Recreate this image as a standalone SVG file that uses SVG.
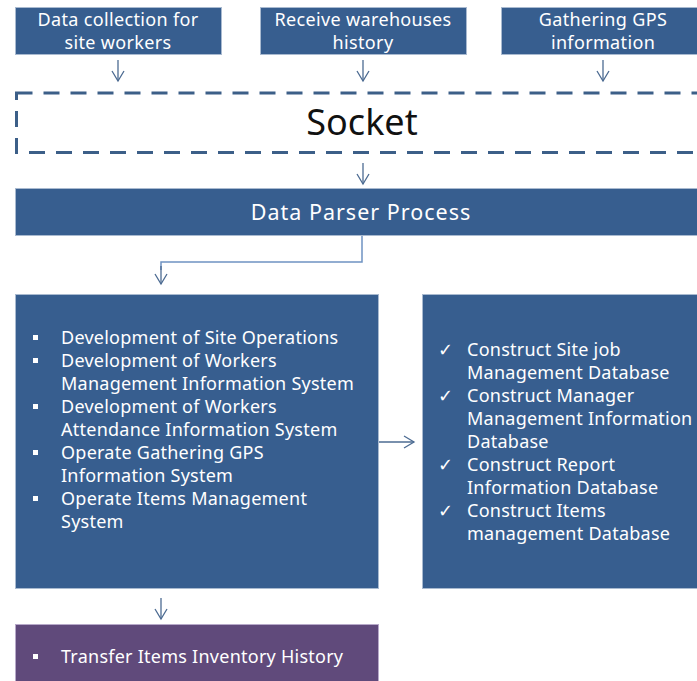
<svg xmlns="http://www.w3.org/2000/svg" width="697" height="681" viewBox="0 0 697 681">
<defs>
<style>
.box{fill:#375E8F;stroke:#A9BAD0;stroke-width:1}
.purple{fill:#604A7B;stroke:#B7A9C9;stroke-width:1}
.t{font-family:"Noto Sans","Open Sans","DejaVu Sans",sans-serif;fill:#FFFFFF}
.top{font-size:18px;letter-spacing:0.35px;text-anchor:middle}
.item{font-size:18px;letter-spacing:0.25px}
.arr{fill:none;stroke:#4C6B92;stroke-width:1.3}
.elbow{fill:none;stroke:#6F93C2;stroke-width:1.5}
</style>
<marker id="ah" markerWidth="14" markerHeight="14" refX="11" refY="7" orient="auto" markerUnits="userSpaceOnUse">
<path d="M1,1 L11,7 L1,13" fill="none" stroke="#4C6B92" stroke-width="1.3"/>
</marker>
</defs>
<rect width="697" height="681" fill="#FFFFFF"/>

<g id="node-data-collection">
<rect class="box" x="15.5" y="7.5" width="206" height="47"/>
<text class="t top" x="118" y="26">Data collection for</text>
<text class="t top" x="118" y="49">site workers</text>
</g>
<g id="node-receive-warehouses">
<rect class="box" x="260.5" y="7.5" width="206" height="47"/>
<text class="t top" x="363" y="26">Receive warehouses</text>
<text class="t top" x="363" y="49">history</text>
</g>
<g id="node-gathering-gps">
<rect class="box" x="501.5" y="7.5" width="200" height="47"/>
<text class="t top" x="603" y="26">Gathering GPS</text>
<text class="t top" x="603" y="49">information</text>
</g>

<g id="node-socket">
<rect x="16.5" y="93" width="700" height="59.5" fill="none" stroke="#3C5F88" stroke-width="3" stroke-dasharray="16,11"/>
<text x="362" y="135" font-family="'Noto Sans','Open Sans',sans-serif" font-size="36" text-anchor="middle" fill="#111111">Socket</text>
</g>

<g id="node-data-parser">
<rect class="box" x="15.5" y="188.5" width="690" height="47"/>
<text class="t" x="361" y="220" font-size="21.5" letter-spacing="1" text-anchor="middle">Data Parser Process</text>
</g>

<g id="node-development">
<rect class="box" x="15.5" y="294.5" width="363" height="294"/>
<g fill="#FFFFFF">
<rect x="33" y="335" width="5" height="5"/>
<rect x="33" y="358" width="5" height="5"/>
<rect x="33" y="404" width="5" height="5"/>
<rect x="33" y="450" width="5" height="5"/>
<rect x="33" y="496" width="5" height="5"/>
</g>
<text class="t item" x="61" y="344">Development of Site Operations</text>
<text class="t item" x="61" y="367">Development of Workers</text>
<text class="t item" x="61" y="390">Management Information System</text>
<text class="t item" x="61" y="413">Development of Workers</text>
<text class="t item" x="61" y="436">Attendance Information System</text>
<text class="t item" x="61" y="459">Operate Gathering GPS</text>
<text class="t item" x="61" y="482">Information System</text>
<text class="t item" x="61" y="505">Operate Items Management</text>
<text class="t item" x="61" y="528">System</text>
</g>

<g id="node-construct">
<rect class="box" x="422.5" y="294.5" width="290" height="294"/>
<text class="t item" x="438" y="356">✓</text>
<text class="t item" x="438" y="402">✓</text>
<text class="t item" x="438" y="471">✓</text>
<text class="t item" x="438" y="517">✓</text>
<text class="t item" x="467" y="356">Construct Site job</text>
<text class="t item" x="467" y="379">Management Database</text>
<text class="t item" x="467" y="402">Construct Manager</text>
<text class="t item" x="467" y="425">Management Information</text>
<text class="t item" x="467" y="448">Database</text>
<text class="t item" x="467" y="471">Construct Report</text>
<text class="t item" x="467" y="494">Information Database</text>
<text class="t item" x="467" y="517">Construct Items</text>
<text class="t item" x="467" y="540">management Database</text>
</g>

<g id="node-transfer">
<rect class="purple" x="15.5" y="624.5" width="363" height="60"/>
<rect x="33" y="654" width="5" height="5" fill="#FFFFFF"/>
<text class="t item" x="61" y="663">Transfer Items Inventory History</text>
</g>

<g id="connectors">
<line class="arr" x1="118" y1="60" x2="118" y2="81" marker-end="url(#ah)"/>
<line class="arr" x1="363" y1="60" x2="363" y2="81" marker-end="url(#ah)"/>
<line class="arr" x1="603" y1="60" x2="603" y2="81" marker-end="url(#ah)"/>
<line class="arr" x1="363" y1="163" x2="363" y2="184" marker-end="url(#ah)"/>
<path class="elbow" d="M362,236 V262 H161 V270"/>
<line class="arr" x1="161" y1="266" x2="161" y2="284" marker-end="url(#ah)"/>
<line class="arr" x1="379" y1="442" x2="414" y2="442" marker-end="url(#ah)"/>
<line class="arr" x1="161" y1="598" x2="161" y2="619" marker-end="url(#ah)"/>
</g>
</svg>
